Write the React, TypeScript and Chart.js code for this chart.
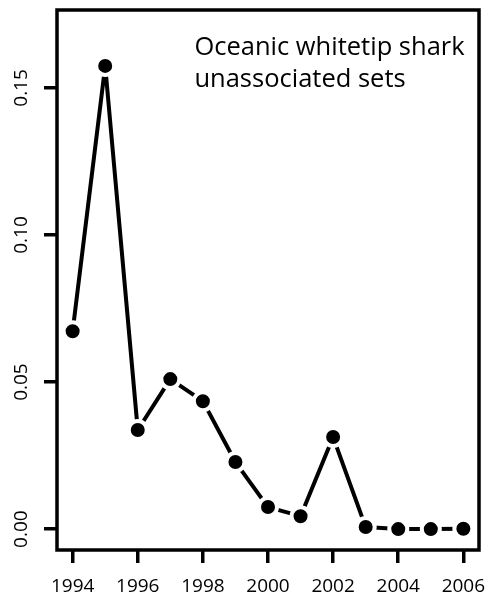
import React, { useEffect, useRef } from "react";
import { Chart, registerables } from "chart.js";

Chart.register(...registerables);

const years = [1994, 1995, 1996, 1997, 1998, 1999, 2000, 2001, 2002, 2003, 2004, 2005, 2006];
const values = [0.0673, 0.1575, 0.0337, 0.051, 0.0435, 0.0228, 0.0075, 0.0044, 0.0313, 0.0007, 0.0, 0.0, 0.0001];
const xTickValues = [1994, 1996, 1998, 2000, 2002, 2004, 2006];
const yTickValues = [0, 0.05, 0.1, 0.15];
const yTickLabels = ["0.00", "0.05", "0.10", "0.15"];
const titleLines = ["Oceanic whitetip shark", "unassociated sets"];
const titleAnchorX = 1997.74;
const titleAnchorY = [0.1612, 0.1503];

const FONT = "'Open Sans', 'DejaVu Sans', sans-serif";

const framePlugin = {
  id: "frameAndTitle",
  afterDraw(chart: any) {
    const { ctx, chartArea, scales } = chart;
    ctx.save();
    ctx.strokeStyle = "#000";
    ctx.lineWidth = 3.5;
    ctx.strokeRect(chartArea.left, chartArea.top, chartArea.right - chartArea.left, chartArea.bottom - chartArea.top);
    ctx.fillStyle = "#000";
    // tick labels
    ctx.font = `19px ${FONT}`;
    ctx.textAlign = "center";
    ctx.textBaseline = "alphabetic";
    xTickValues.forEach((v) => {
      ctx.fillText(String(v), scales.x.getPixelForValue(v), chartArea.bottom + 42);
    });
    yTickValues.forEach((v, i) => {
      ctx.save();
      ctx.translate(chartArea.left - 35, scales.y.getPixelForValue(v));
      ctx.rotate(-Math.PI / 2);
      ctx.textBaseline = "middle";
      ctx.fillText(yTickLabels[i], 0, 0);
      ctx.restore();
    });
    // title
    ctx.font = `25.5px ${FONT}`;
    ctx.textAlign = "left";
    ctx.textBaseline = "alphabetic";
    titleLines.forEach((t, i) => {
      ctx.fillText(t, scales.x.getPixelForValue(titleAnchorX), scales.y.getPixelForValue(titleAnchorY[i]));
    });
    ctx.restore();
  },
};

export default function App() {
  const ref = useRef<HTMLCanvasElement>(null);
  useEffect(() => {
    if (!ref.current) return;
    const chart = new Chart(ref.current, {
      type: "line",
      data: {
        datasets: [
          {
            data: years.map((y, i) => ({ x: y, y: values[i] })),
            borderColor: "#000",
            borderWidth: 4,
            borderJoinStyle: "bevel",
            pointRadius: 9,
            pointHoverRadius: 9,
            pointBackgroundColor: "#000",
            pointBorderColor: "#fff",
            pointBorderWidth: 4,
            tension: 0,
            fill: false,
          },
        ],
      },
      options: {
        animation: false,
        responsive: false,
        events: [],
        layout: { autoPadding: false, padding: { top: 10, right: 6, left: 0, bottom: 0 } },
        plugins: { legend: { display: false }, tooltip: { enabled: false }, title: { display: false } },
        scales: {
          x: {
            type: "linear",
            min: 1993.52,
            max: 2006.48,
            afterBuildTicks: (s: any) => {
              s.ticks = xTickValues.map((v) => ({ value: v }));
            },
            afterFit: (s: any) => {
              s.height = 47;
              s.paddingLeft = 0;
              s.paddingRight = 0;
            },
            border: { display: false },
            grid: { drawOnChartArea: false, drawTicks: true, tickLength: 13, lineWidth: 3.5, color: "#000" },
            ticks: { display: false, autoSkip: false },
          },
          y: {
            type: "linear",
            min: -0.0071,
            max: 0.1765,
            afterBuildTicks: (s: any) => {
              s.ticks = yTickValues.map((v) => ({ value: v }));
            },
            afterFit: (s: any) => {
              s.width = 57;
              s.paddingTop = 0;
              s.paddingBottom = 0;
            },
            border: { display: false },
            grid: { drawOnChartArea: false, drawTicks: true, tickLength: 13, lineWidth: 3.5, color: "#000" },
            ticks: { display: false, autoSkip: false },
          },
        },
      },
      plugins: [framePlugin],
    } as any);
    return () => chart.destroy();
  }, []);
  return (
    <div style={{ position: "absolute", left: 0, top: 0, width: 485, height: 597, background: "#fff" }}>
      <canvas ref={ref} width={485} height={597} style={{ display: "block" }} />
    </div>
  );
}
